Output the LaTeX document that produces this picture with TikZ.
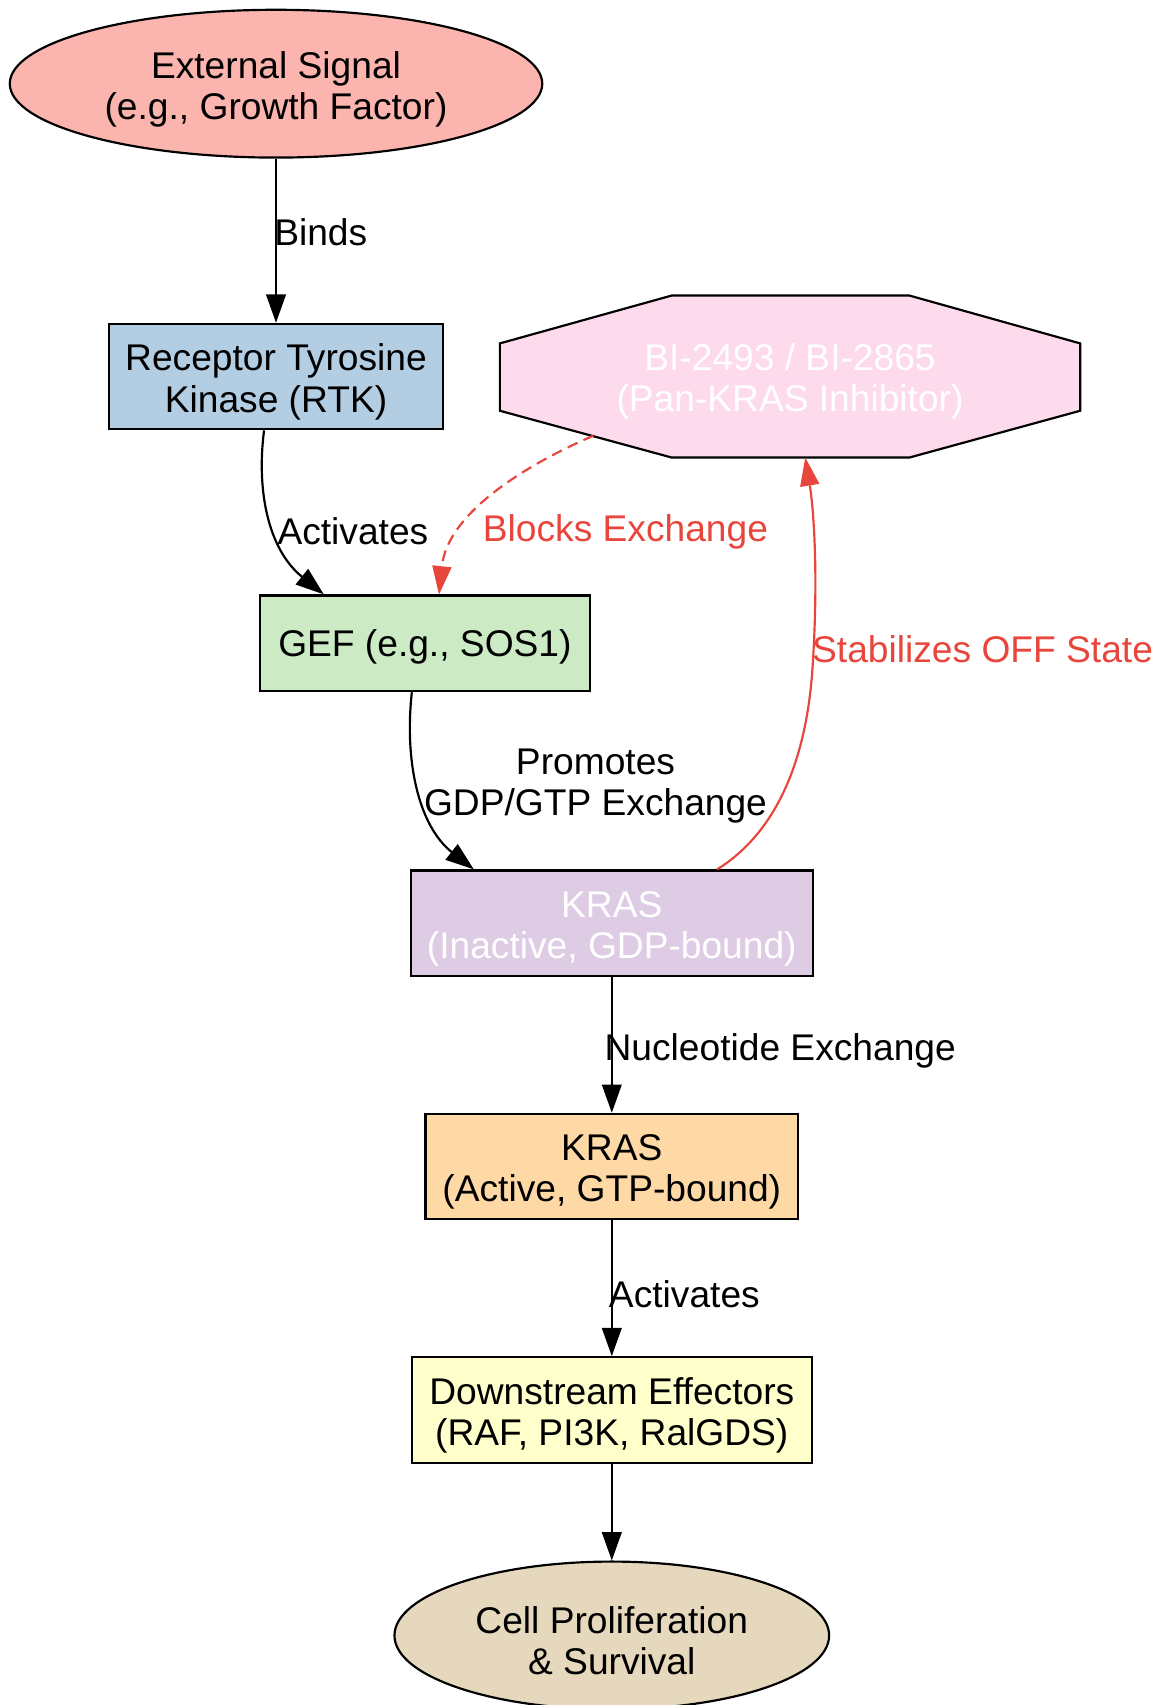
\documentclass[tikz,border=0pt]{standalone}
\usepackage{fontspec}
\setmainfont{Liberation Sans}
\usetikzlibrary{shapes.geometric,arrows.meta,calc}
\definecolor{cext}{HTML}{FBB4AE}
\definecolor{crtk}{HTML}{B3CDE3}
\definecolor{cgef}{HTML}{CCEBC5}
\definecolor{ckri}{HTML}{DECBE4}
\definecolor{ckra}{HTML}{FED9A6}
\definecolor{cdown}{HTML}{FFFFCC}
\definecolor{ccell}{HTML}{E5D8BD}
\definecolor{cinh}{HTML}{FDDAEC}
\definecolor{cred}{HTML}{E8453C}
\begin{document}
\begin{tikzpicture}[x=0.5pt,y=-0.5pt,
  every node/.style={font=\fontsize{17.1}{19}\selectfont, align=center},
  box/.style={draw=black, line width=1pt, rectangle, inner sep=0pt},
  oval/.style={draw=black, line width=1pt, ellipse, inner sep=0pt},
  lbl/.style={inner sep=0pt, anchor=west},
  conn/.style={line width=1pt, -{Triangle[length=13pt,width=9pt]}},
  redconn/.style={line width=1pt, draw=cred, -{Triangle[length=13pt,width=9pt,fill=cred,line width=0pt]}}
]
\useasboundingbox (0,0) rectangle (1066,1569);
% octagon drawn directly
\filldraw[fill=cinh, draw=black, line width=1pt]
  (460,316) -- (618,272) -- (837,272) -- (994,316) -- (994,378) -- (837,421) -- (618,421) -- (460,378) -- cycle;
\node (inh) at (727,351) [text=white] {BI-2493 / BI-2865\\(Pan-KRAS Inhibitor)};
\coordinate (inhA) at (546,401);
\coordinate (inhB) at (741,421);

\node (ext) at (254,77) [oval, fill=cext, minimum width=245pt, minimum height=68pt] {};
\node (extT) at (254,82) {External Signal\\(e.g., Growth Factor)};
\node (rtk) at (254,346.5) [box, fill=crtk, minimum width=154pt, minimum height=48.5pt] {};
\node (rtkT) at (254,351.5) {Receptor Tyrosine\\Kinase (RTK)};
\node (gef) at (391,592) [box, fill=cgef, minimum width=152pt, minimum height=44pt] {};
\node (gefT) at (391,595) {GEF (e.g., SOS1)};
\node (kri) at (563,849.5) [box, fill=ckri, minimum width=185pt, minimum height=48.5pt] {};
\node (kriT) at (563,854.5) [text=white] {KRAS\\(Inactive, GDP-bound)};
\node (kra) at (563,1073.5) [box, fill=ckra, minimum width=171.5pt, minimum height=48.5pt] {};
\node (kraT) at (563,1078.5) {KRAS\\(Active, GTP-bound)};
\node (down) at (563,1297.5) [box, fill=cdown, minimum width=184pt, minimum height=48.5pt] {};
\node (downT) at (563,1302.5) {Downstream Effectors\\(RAF, PI3K, RalGDS)};
\node (cell) at (563,1505) [oval, fill=ccell, minimum width=200pt, minimum height=68pt] {};
\node (cellT) at (563,1510) {Cell Proliferation\\\& Survival};

% connectors
\draw[conn] (ext.south) -- (rtk.north);
\draw[conn] ($(rtk.south)+(-11,0)$) .. controls (236,450) and (246,505) .. ($(gef.north)+(-93,0)$);
\draw[conn] ($(gef.south)+(-12,0)$) .. controls (372,700) and (385,760) .. ($(kri.north)+(-127,0)$);
\draw[conn] (kri.south) -- (kra.north);
\draw[conn] (kra.south) -- (down.north);
\draw[conn] (down.south) -- (cell.north);
\draw[redconn, dash pattern=on 5pt off 3pt] (inhA) .. controls (490,425) and (412,470) .. ($(gef.north)+(13,0)$);
\draw[redconn] ($(kri.north)+(97,0)$) .. controls (705,772) and (742,715) .. (748,610) .. controls (753,530) and (749,470) .. (inhB);

% labels
\node[lbl] (lbinds) at (252,214) {Binds};
\node[lbl] (lact1) at (255,489) {Activates};
\node[lbl, text=cred] (lblock) at (444,489) {Blocks Exchange};
\node (lprom) at (548,723.5) [inner sep=0pt] {Promotes\\GDP/GTP Exchange};
\node[lbl, text=cred] (lstab) at (747,597) {Stabilizes OFF State};
\node[lbl] (lnuc) at (556,967) {Nucleotide Exchange};
\node[lbl] (lact2) at (560,1191) {Activates};
\end{tikzpicture}
\end{document}
